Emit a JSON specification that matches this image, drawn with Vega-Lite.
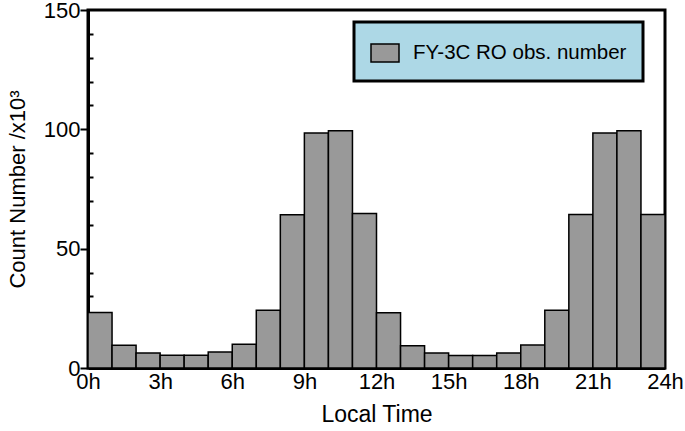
{
  "$schema": "https://vega.github.io/schema/vega-lite/v6.json",
  "width": 577,
  "height": 358,
  "autosize": {"type": "none"},
  "padding": {"left": 88, "top": 10, "right": 20, "bottom": 63},
  "background": "white",
  "config": {
    "font": "Liberation Sans",
    "view": {"stroke": "black", "strokeWidth": 3},
    "axis": {
      "domainColor": "black",
      "domainWidth": 3,
      "labelColor": "black",
      "titleColor": "black",
      "labelFont": "Liberation Sans",
      "titleFont": "Liberation Sans",
      "labelFontSize": 22,
      "titleFontSize": 22,
      "titleFontWeight": "normal",
      "grid": false,
      "tickColor": "black"
    }
  },
  "data": {
    "values": [
      {"start": 0, "end": 1, "count": 23.3, "series": "FY-3C RO obs. number"},
      {"start": 1, "end": 2, "count": 9.5, "series": "FY-3C RO obs. number"},
      {"start": 2, "end": 3, "count": 6.3, "series": "FY-3C RO obs. number"},
      {"start": 3, "end": 4, "count": 5.3, "series": "FY-3C RO obs. number"},
      {"start": 4, "end": 5, "count": 5.3, "series": "FY-3C RO obs. number"},
      {"start": 5, "end": 6, "count": 6.7, "series": "FY-3C RO obs. number"},
      {"start": 6, "end": 7, "count": 10.0, "series": "FY-3C RO obs. number"},
      {"start": 7, "end": 8, "count": 24.2, "series": "FY-3C RO obs. number"},
      {"start": 8, "end": 9, "count": 64.2, "series": "FY-3C RO obs. number"},
      {"start": 9, "end": 10, "count": 98.5, "series": "FY-3C RO obs. number"},
      {"start": 10, "end": 11, "count": 99.4, "series": "FY-3C RO obs. number"},
      {"start": 11, "end": 12, "count": 64.7, "series": "FY-3C RO obs. number"},
      {"start": 12, "end": 13, "count": 23.1, "series": "FY-3C RO obs. number"},
      {"start": 13, "end": 14, "count": 9.35, "series": "FY-3C RO obs. number"},
      {"start": 14, "end": 15, "count": 6.3, "series": "FY-3C RO obs. number"},
      {"start": 15, "end": 16, "count": 5.2, "series": "FY-3C RO obs. number"},
      {"start": 16, "end": 17, "count": 5.2, "series": "FY-3C RO obs. number"},
      {"start": 17, "end": 18, "count": 6.3, "series": "FY-3C RO obs. number"},
      {"start": 18, "end": 19, "count": 9.6, "series": "FY-3C RO obs. number"},
      {"start": 19, "end": 20, "count": 24.2, "series": "FY-3C RO obs. number"},
      {"start": 20, "end": 21, "count": 64.3, "series": "FY-3C RO obs. number"},
      {"start": 21, "end": 22, "count": 98.5, "series": "FY-3C RO obs. number"},
      {"start": 22, "end": 23, "count": 99.4, "series": "FY-3C RO obs. number"},
      {"start": 23, "end": 24, "count": 64.3, "series": "FY-3C RO obs. number"}
    ]
  },
  "mark": {"type": "bar", "stroke": "black", "strokeWidth": 1.5, "opacity": 1},
  "encoding": {
    "x": {
      "field": "start",
      "type": "quantitative",
      "scale": {"domain": [0, 24], "nice": false, "zero": false},
      "axis": {
        "values": [0, 3, 6, 9, 12, 15, 18, 21, 24],
        "labelExpr": "datum.value + 'h'",
        "ticks": false,
        "labelPadding": 3,
        "labelFlush": false,
        "title": "Local Time",
        "titleFontSize": 23,
        "titlePadding": 11
      }
    },
    "x2": {"field": "end"},
    "y": {
      "field": "count",
      "type": "quantitative",
      "scale": {"domain": [0, 150], "nice": false},
      "axis": {
        "values": [0, 10, 20, 30, 40, 50, 60, 70, 80, 90, 100, 110, 120, 130, 140, 150],
        "labelExpr": "datum.value % 50 === 0 ? datum.label : ''",
        "tickSize": {"condition": {"test": "datum.value % 50 === 0", "value": 8}, "value": -5},
        "tickWidth": 2,
        "labelPadding": 0,
        "title": "Count Number /x10³",
        "titlePadding": 14
      }
    },
    "y2": {"datum": 0},
    "fill": {
      "field": "series",
      "type": "nominal",
      "scale": {"range": ["#999999"]},
      "legend": {
        "title": null,
        "orient": "none",
        "legendX": 266,
        "legendY": 12,
        "fillColor": "#add8e6",
        "strokeColor": "black",
        "padding": 16,
        "symbolType": "M-1,-0.64H1V0.64H-1Z",
        "symbolSize": 784,
        "symbolStrokeColor": "black",
        "symbolStrokeWidth": 1.5,
        "symbolOpacity": 1,
        "labelFontSize": 20.5,
        "labelFont": "Liberation Sans",
        "labelColor": "black",
        "labelOffset": 13,
        "labelLimit": 400,
        "encode": {"legend": {"update": {"strokeWidth": {"value": 3}}}}
      }
    }
  }
}
